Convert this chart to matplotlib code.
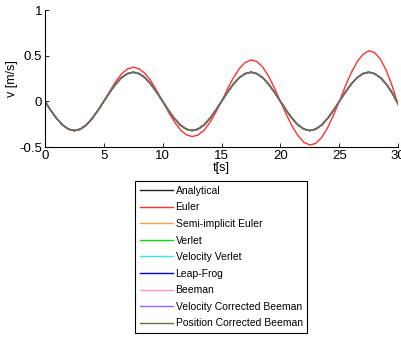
import matplotlib
matplotlib.use('Agg')
import matplotlib.pyplot as plt

plt.rcParams['font.family'] = ['Liberation Sans', 'DejaVu Sans']

# time samples, every 0.5 s
t = [i * 0.5 for i in range(61)]

# values
analytical = [0, -0.099, -0.188, -0.259, -0.304, -0.32, -0.304, -0.259, -0.188, -0.099,
              0, 0.099, 0.188, 0.259, 0.304, 0.32, 0.304, 0.259, 0.188, 0.099,
              0, -0.099, -0.188, -0.259, -0.304, -0.32, -0.304, -0.259, -0.188, -0.099,
              0, 0.099, 0.188, 0.259, 0.304, 0.32, 0.304, 0.259, 0.188, 0.099,
              0, -0.099, -0.188, -0.259, -0.304, -0.32, -0.304, -0.259, -0.188, -0.099,
              0, 0.099, 0.188, 0.259, 0.304, 0.32, 0.304, 0.259, 0.188, 0.09,
              -0.03]
euler = [0, -0.098, -0.187, -0.259, -0.305, -0.322, -0.308, -0.265, -0.194, -0.103,
         0, 0.110, 0.215, 0.300, 0.355, 0.375, 0.358, 0.306, 0.224, 0.118,
         0, -0.118, -0.225, -0.311, -0.366, -0.385, -0.370, -0.318, -0.233, -0.123,
         0, 0.135, 0.258, 0.358, 0.425, 0.455, 0.437, 0.375, 0.275, 0.145,
         0, -0.143, -0.273, -0.377, -0.449, -0.478, -0.460, -0.396, -0.290, -0.153,
         0, 0.163, 0.311, 0.430, 0.515, 0.555, 0.535, 0.460, 0.336, 0.165,
         -0.04]
# the remaining methods sit on top of the analytical curve
semi_implicit = analytical
verlet = analytical
velocity_verlet = analytical
leap_frog = analytical
beeman = analytical
vel_corr_beeman = analytical
pos_corr_beeman = analytical

labels = ['Analytical', 'Euler', 'Semi-implicit Euler', 'Verlet', 'Velocity Verlet',
          'Leap-Frog', 'Beeman', 'Velocity Corrected Beeman', 'Position Corrected Beeman']
series = [analytical, euler, semi_implicit, verlet, velocity_verlet,
          leap_frog, beeman, vel_corr_beeman, pos_corr_beeman]
colors = ['#202020', '#ff3030', '#ff9f40', '#00e000', '#30e8e8',
          '#0000ff', '#ff90c8', '#a060ff', '#707030']

fig = plt.figure(figsize=(4.01, 3.38), dpi=100)
ax = fig.add_axes([0.112, 0.565, 0.881, 0.405])

for y, lab, c in zip(series, labels, colors):
    ax.plot(t, y, color=c, linewidth=1.0, label=lab)

ax.set_xlim(0, 30)
ax.set_ylim(-0.5, 1)
ax.set_xticks([0, 5, 10, 15, 20, 25, 30])
ax.set_yticks([-0.5, 0, 0.5, 1])
ax.set_yticklabels(['-0.5', '0', '0.5', '1'])
ax.tick_params(direction='in', labelsize=9.5, length=3, width=0.6, pad=2)
ax.spines['top'].set_visible(False)
ax.spines['right'].set_visible(False)
for s in ['left', 'bottom']:
    ax.spines[s].set_linewidth(0.8)
ax.set_xlabel('t[s]', fontsize=9, labelpad=0)
ax.set_ylabel('v [m/s]', fontsize=9, labelpad=1)

leg = fig.legend(loc='upper center', bbox_to_anchor=(0.552, 0.464), fontsize=7.5,
                 frameon=True, fancybox=False, edgecolor='black', framealpha=1,
                 handlelength=3.2, handletextpad=0.2, labelspacing=0.63,
                 borderpad=0.45, borderaxespad=0)
leg.get_frame().set_linewidth(0.8)

fig.savefig('out.png', dpi=100)
